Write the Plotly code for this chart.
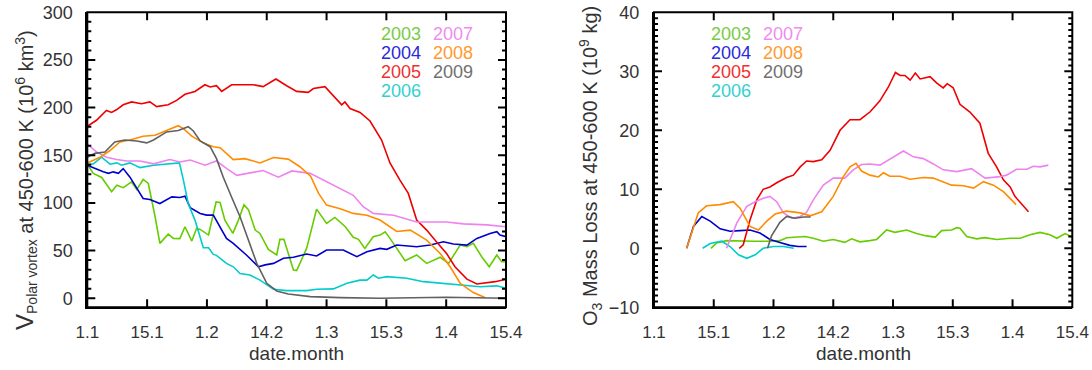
import plotly.graph_objects as go

# ---------------- axis labels ----------------
tick_pos = [0, 15, 30, 45, 60, 75, 90, 105]
tick_text = ["1.1", "15.1", "1.2", "14.2", "1.3", "15.3", "1.4", "15.4"]
vol_ticks = [0, 50, 100, 150, 200, 250, 300]
loss_ticks = [-10, 0, 10, 20, 30, 40]
years = ["2003", "2004", "2005", "2006", "2007", "2008", "2009"]
colors = {"2003": "#66cc00", "2004": "#0000cc", "2005": "#ee0000", "2006": "#00cccc",
          "2007": "#ee82ee", "2008": "#ff8c00", "2009": "#606060"}
text_colors = {"2003": "#77cc44", "2004": "#2a2ad8", "2005": "#f03030", "2006": "#33d0d0",
               "2007": "#f08cf0", "2008": "#ff9a30", "2009": "#707070"}

# ---------------- left panel: vortex volume ----------------
vol_2003_x = [0, 1.5, 3.6, 6.1, 7.4, 9, 11.1, 12.4, 14, 15.3, 17, 18.2, 20.3, 21.6, 23.2, 24.5, 26.2, 27.4, 28.3,
              30.4, 32.3, 33.3, 34.5, 36.5, 37.9, 39.3, 40.4, 42.1, 43.3, 45.4, 47.5, 48.3, 49.3, 51.7, 52.5, 55,
              57.5, 60, 62.1, 64.7, 66.7, 68, 69.6, 71.7, 73.4, 74.7, 75.9, 79.7, 82.6, 85.1, 88.5, 90.6, 93.5,
              95.2, 96.8, 98.9, 100.8, 102.7, 103.9, 105]
vol_2003_y = [140.6, 131, 126.7, 111.7, 118.6, 116, 122, 114, 124.6, 120.4, 85.5, 57.6, 67.3, 62.8, 62.5, 75, 60,
              73.3, 72.2, 66.3, 101, 100.5, 82, 68, 82, 98, 93, 71.5, 68, 51.3, 45.4, 61.8, 61.8, 29.7, 29, 52.3,
              93.5, 78.5, 84.8, 75, 63.9, 61.8, 52.3, 64.6, 66.3, 69.8, 62.8, 39.4, 45.4, 36.6, 43, 36.6, 55.8,
              54, 57.6, 43.6, 33, 45.4, 38.4, 38.4]

vol_2004_x = [0, 1.9, 4, 5.3, 6.5, 7.8, 9, 10.7, 12.8, 14, 15.7, 18.2, 21.2, 23.2, 24.5, 25.8, 28.3, 29.9, 31.6,
              34.9, 36.6, 39.9, 42.9, 44.6, 46.7, 49.2, 51.7, 55, 57.5, 60, 64.2, 67.6, 70.1, 73.4, 75.1, 77.6,
              82.6, 86, 89.3, 91.8, 95.2, 97.7, 101, 102.7, 103.5, 105]
vol_2004_y = [139.6, 136, 132.6, 131, 132.6, 131, 136, 127, 113, 104.7, 103.6, 99.4, 106.4, 105.7, 107, 95, 89,
              87.2, 87.2, 62.8, 57.6, 45.4, 33, 35, 36.6, 42, 43, 46.4, 44.3, 50.6, 50.6, 43.6, 48.8, 52.3, 51.3,
              55.8, 54, 55.8, 59.3, 56.9, 55.8, 62.8, 68, 69.8, 66.3, 64.6]

vol_2005_x = [0, 2.3, 4.8, 6.1, 7.4, 9, 11.1, 13.6, 15.7, 17.4, 20.3, 22.4, 24.5, 27, 29.5, 30.8, 32.4, 33.7, 36.2,
              39.1, 41.6, 44.1, 47.3, 50, 52.5, 55.4, 56.7, 59.6, 61.7, 63.8, 64.6, 65.9, 68.4, 70.9, 73.8, 75.9,
              78.4, 80.5, 82.6, 85.1, 87.6, 90.1, 92.2, 95.2, 97.7, 100.2, 102.3, 105]
vol_2005_y = [180.4, 186.7, 197, 195, 198, 203, 206, 204, 206, 201, 203, 207.6, 214, 217, 224, 221.6, 223, 217,
              224, 224, 224, 222, 230, 223, 217, 216, 220, 222, 213, 203, 206, 199, 195, 186, 166, 142, 124, 110,
              82, 71.5, 59, 47, 33, 20, 15, 16.4, 17.4, 20]

vol_2006_x = [0, 1.5, 3.6, 5.7, 7.4, 8.6, 10.7, 13.2, 16.6, 19.9, 23.1, 24.1, 25.3, 27, 29.1, 30.4, 31.6, 32.4,
              34.9, 36.6, 38.3, 40.8, 43.3, 46.7, 50, 55, 57.5, 61.7, 65.1, 68.4, 70.1, 71.7, 73, 75.1, 80.1,
              84.3, 88.5, 94.3, 98.5, 102.7, 105]
vol_2006_y = [140.6, 141, 148, 140.6, 142, 139.6, 142, 137, 139.6, 141, 142, 124, 99.4, 82, 53, 53, 46, 45, 36.6,
              33, 26, 24.4, 19, 9.4, 8, 8, 9.4, 9.8, 15.7, 19, 19, 24.4, 21, 22.7, 21, 17.4, 15.7, 14, 12, 13,
              10.5]

vol_2007_x = [0, 2.3, 4.8, 7.4, 9.9, 13.2, 16.6, 20.7, 23.2, 25.8, 29.5, 32.4, 35, 37.5, 40.8, 44.1, 47.9, 51.3,
              55.9, 60, 64.2, 66.7, 69.2, 71.7, 76.8, 82.6, 90.1, 94.3, 100.2, 105]
vol_2007_y = [161.5, 153.5, 148, 145.5, 144, 144, 141, 145.5, 143, 145, 139.6, 144, 136, 129, 131.5, 134, 127,
              133.6, 131, 122, 113, 108, 96, 89, 87, 80, 80, 78, 77, 75]

vol_2008_x = [0, 3.2, 5.7, 8.2, 10.7, 14, 17, 19.9, 22.8, 24.1, 26.2, 29.1, 31.6, 33.3, 35, 36.6, 39.5, 43.3,
              46.7, 50.4, 53.3, 56, 58, 60, 63.4, 66.7, 70.1, 73.4, 77.6, 81, 85.1, 88.5, 91, 93.5, 96.8, 99.7]
vol_2008_y = [142, 148, 155, 164, 166, 170, 171, 176, 181, 178, 170, 163, 159, 158, 152, 145.5, 146.5, 142,
              147.6, 146, 138, 128, 110, 97.7, 94, 89, 87, 82, 70, 71.5, 61, 47, 33, 15.7, 6, 0.7]

vol_2009_x = [0, 1.9, 4.4, 6.9, 9.4, 12.4, 14.9, 16.6, 19.9, 22.8, 25.3, 26.6, 28.3, 30.8, 32.4, 34.1, 36.2, 38.3,
              40.4, 42.5, 45, 47.5, 50.4, 55.9, 63.4, 73.4, 90, 105]
vol_2009_y = [148, 152, 153.5, 164, 166, 165, 163, 166, 174.5, 176, 180, 175.5, 165, 159, 146.5, 127, 106, 85.5,
              61, 36.6, 15.7, 7.7, 4.5, 1.7, 0.7, 0, 1, 0]

# ---------------- right panel: ozone mass loss ----------------
loss_2003_x = [14.3, 15.7, 18.2, 21.6, 24.9, 28.3, 31.6, 33.3, 35.8, 37.9, 40, 42.5, 45, 47.9, 49.6, 51.7, 54.2,
               55.9, 58.4, 60.5, 63.4, 65.9, 68.4, 70.6, 72.2, 74.7, 76, 76.8, 78.5, 81, 83.1, 86, 89.4, 91.9,
               94.4, 96.9, 99.4, 101.1, 103.2, 105]
loss_2003_y = [0, 0.9, 1.3, 1.2, 1.2, 1.2, 1.3, 1.8, 1.9, 2, 1.7, 1.2, 1.5, 1, 1.6, 1.1, 1.3, 1.5, 3.1, 2.7, 3.1,
               2.5, 2.1, 1.9, 3, 3.1, 3.5, 3.4, 2, 1.6, 1.8, 1.5, 1.7, 1.7, 2.3, 2.7, 2.3, 1.7, 2.5, 1.9]

loss_2004_x = [8.2, 9.9, 12, 14.1, 16.6, 19.1, 21.6, 24.1, 26.6, 29.1, 31.6, 34.1, 36.2, 38.3]
loss_2004_y = [0, 3.7, 5.4, 4.6, 3.3, 2.9, 3, 3.1, 2.6, 1.5, 1, 0.5, 0.3, 0.3]

loss_2005_x = [21.4, 22.4, 24.1, 25.8, 27.4, 29.1, 30.8, 33.3, 35, 36.7, 38.3, 40, 42.1, 44.2, 46.7, 49.2, 51.7,
               54.2, 56.7, 58.8, 60.6, 61.8, 63, 64.3, 65.6, 66.8, 69.3, 71, 72.6, 73.6, 75.1, 76.8, 79.3, 81.8,
               83.9, 86, 87.7, 89.4, 90.6, 92.3, 94]
loss_2005_y = [0, 0.6, 4.8, 8.2, 10, 10.4, 11.1, 12, 12.4, 13.8, 14.8, 14.7, 15, 16.6, 20, 21.8, 21.8, 23.1, 25,
               27.3, 29.8, 29.3, 29.3, 28.5, 29.7, 28.7, 29.1, 28, 27.2, 27.9, 27.2, 24.4, 23.1, 21.2, 16.1, 13.8,
               11.6, 10.4, 8.8, 7.5, 6.2]

loss_2006_x = [12.2, 14.1, 17, 19.1, 21.2, 23.3, 25.4, 27.4, 30, 32.5, 35.1]
loss_2006_y = [0, 0.8, 1.2, 0.3, -1.1, -1.7, -1.1, 0, 0.3, 0.3, 0]

loss_2007_x = [18.2, 20.8, 23.3, 25.4, 27.4, 29.1, 30.8, 32.5, 34.6, 36.7, 38.3, 40, 42.5, 45, 47.9, 50, 52.1,
               54.2, 56.7, 59.2, 62.6, 65.1, 67.6, 70.1, 72.6, 76, 79.7, 83.1, 86.4, 88.5, 91, 93.6, 95.2, 96.9, 99]
loss_2007_y = [0, 4.3, 7.1, 7.9, 8.5, 8.8, 7.9, 6, 5.1, 5.4, 6.1, 8.2, 10.7, 11.9, 11.9, 13.3, 14.2, 14.3, 14.1,
               15.1, 16.5, 15.5, 15.2, 14.3, 13.3, 13, 13.5, 11.9, 12.1, 12.4, 13.4, 13.4, 13.9, 13.8, 14.1]

loss_2008_x = [8.2, 9.5, 11.1, 13.2, 16.6, 19.9, 21.6, 24.1, 26.2, 28.3, 30.4, 33.3, 36.7, 39.2, 42.1, 45, 47.5,
               49.2, 50.7, 52.1, 54.2, 56.3, 57.6, 59.2, 61.8, 64.3, 67.6, 70.1, 72.6, 74.7, 77.7, 80.2, 82.7,
               85.2, 87.7, 89.4, 90.9]
loss_2008_y = [0, 2.6, 6, 7.2, 7.4, 7.9, 6.8, 3.7, 3.1, 4.6, 5.8, 6.3, 6, 5.5, 6.2, 8.8, 12.1, 13.8, 14.4, 13.1,
               12.4, 12.1, 12.8, 12.2, 12.2, 11.7, 12, 11.9, 11.3, 10.7, 10.6, 10.2, 11.3, 10.7, 9.6, 8.5, 7.4]

loss_2009_x = [28.5, 29.5, 31.6, 33.3, 35.4, 37.5, 39.3]
loss_2009_y = [0, 2.1, 4.4, 5.4, 5.1, 5.3, 5.3]

left_series = {"2003": (vol_2003_x, vol_2003_y), "2004": (vol_2004_x, vol_2004_y),
               "2005": (vol_2005_x, vol_2005_y), "2006": (vol_2006_x, vol_2006_y),
               "2007": (vol_2007_x, vol_2007_y), "2008": (vol_2008_x, vol_2008_y),
               "2009": (vol_2009_x, vol_2009_y)}
right_series = {"2003": (loss_2003_x, loss_2003_y), "2004": (loss_2004_x, loss_2004_y),
                "2005": (loss_2005_x, loss_2005_y), "2006": (loss_2006_x, loss_2006_y),
                "2007": (loss_2007_x, loss_2007_y), "2008": (loss_2008_x, loss_2008_y),
                "2009": (loss_2009_x, loss_2009_y)}

fig = go.Figure()
for yr in years:
    x, y = left_series[yr]
    fig.add_trace(go.Scatter(x=x, y=y, mode="lines", line=dict(color=colors[yr], width=1.6),
                             xaxis="x", yaxis="y", showlegend=False, hoverinfo="skip"))
for yr in years:
    x, y = right_series[yr]
    fig.add_trace(go.Scatter(x=x, y=y, mode="lines", line=dict(color=colors[yr], width=1.6),
                             xaxis="x2", yaxis="y2", showlegend=False, hoverinfo="skip"))

W, H = 1092, 370


def px_x(v):
    return v / W


def px_y(v):
    return 1 - v / H


left_dom = [px_x(87.3), px_x(506)]
right_dom = [px_x(654), px_x(1072.3)]
ydom = [px_y(307.3), px_y(12.3)]
PLOT_W = (left_dom[1] - left_dom[0]) * W
PLOT_H = (ydom[1] - ydom[0]) * H

FONT = "Liberation Sans, Arial, Helvetica, sans-serif"
NARROW = "Liberation Sans Narrow, Arial Narrow, Liberation Sans, sans-serif"
TXT = "#333333"

base = dict(showline=True, linewidth=2, linecolor="#000000", ticks="",
            showgrid=False, zeroline=False, automargin=False, ticklabeloverflow="allow")
xcommon = dict(range=[0, 105], tickmode="array", tickvals=tick_pos, ticktext=tick_text,
               ticklabelstandoff=8, tickfont=dict(family=NARROW, size=17, color=TXT), **base)
ytickfont = dict(family=FONT, size=18, color=TXT)

VOL_RANGE = [-9.5, 300]
LOSS_RANGE = [-10, 40]

fig.update_layout(
    template="none",
    width=W, height=H, margin=dict(l=0, r=0, t=0, b=0, autoexpand=False),
    paper_bgcolor="white", plot_bgcolor="white",
    xaxis=dict(domain=left_dom, anchor="y", **xcommon),
    yaxis=dict(domain=ydom, anchor="x", range=VOL_RANGE, tickmode="array", tickvals=vol_ticks,
               ticklabelstandoff=9, tickfont=ytickfont, **base),
    xaxis2=dict(domain=right_dom, anchor="y2", **xcommon),
    yaxis2=dict(domain=ydom, anchor="x2", range=LOSS_RANGE, tickmode="array", tickvals=loss_ticks,
                ticklabelstandoff=9, tickfont=ytickfont, **base),
)

# ---- frame and inward tick marks on all four sides (drawn as layout shapes) ----
shapes = []
TICK = dict(color="#000000", width=2)
MAJ, MIN = 8, 4
panels = [("x", "y", vol_ticks, 10, VOL_RANGE), ("x2", "y2", loss_ticks, 1, LOSS_RANGE)]
for xr, yr_, yt, minor_step, yrange in panels:
    shapes.append(dict(type="rect", xref=xr + " domain", yref=yr_ + " domain", x0=0, x1=1, y0=0, y1=1,
                       line=dict(color="#000000", width=2), fillcolor="rgba(0,0,0,0)", layer="above"))
    fx = MAJ / PLOT_H
    for t in tick_pos[1:-1]:
        for y0, y1 in [(0, fx), (1, 1 - fx)]:
            shapes.append(dict(type="line", xref=xr, yref=yr_ + " domain", x0=t, x1=t, y0=y0, y1=y1,
                               line=TICK, layer="above"))
    minor_vals = [v for v in range(int(yt[0]), int(yt[-1]) + 1, minor_step) if v not in yt]
    for v, ln in [(v, MAJ) for v in yt] + [(v, MIN) for v in minor_vals]:
        if v <= yrange[0] or v >= yrange[1]:
            continue
        f = ln / PLOT_W
        for x0, x1 in [(0, f), (1, 1 - f)]:
            shapes.append(dict(type="line", xref=xr + " domain", yref=yr_, x0=x0, x1=x1, y0=v, y1=v,
                               line=TICK, layer="above"))
fig.update_layout(shapes=shapes)

ann = []
# axis titles
for xc in [(87.3 + 506) / 2, (654 + 1072.3) / 2]:
    ann.append(dict(text="date.month", x=px_x(xc), y=px_y(353), xref="paper", yref="paper",
                    xanchor="center", yanchor="middle", showarrow=False,
                    font=dict(family=FONT, size=19, color=TXT)))
ann.append(dict(text='<span style="font-size:24px">V</span><sub>Polar vortex</sub> at 450-600 K (10<sup>6</sup> km<sup>3</sup>)',
                x=px_x(25), y=px_y(180), xref="paper", yref="paper", textangle=-90,
                xanchor="center", yanchor="middle", showarrow=False,
                font=dict(family=FONT, size=20, color=TXT)))
ann.append(dict(text="O<sub>3</sub> Mass Loss at 450-600 K (10<sup>9</sup> kg)",
                x=px_x(590), y=px_y(166), xref="paper", yref="paper", textangle=-90,
                xanchor="center", yanchor="middle", showarrow=False,
                font=dict(family=FONT, size=20, color=TXT)))

# legend texts
row_y = [33.7, 52.8, 72, 91.2]
legend_layout = [("2003", 0, 0), ("2004", 0, 1), ("2005", 0, 2), ("2006", 0, 3),
                 ("2007", 1, 0), ("2008", 1, 1), ("2009", 1, 2)]
for col_x in [(379, 430.5), (708.5, 760.5)]:
    for yr, c, r in legend_layout:
        ann.append(dict(text=yr, x=px_x(col_x[c]), y=px_y(row_y[r]), xref="paper", yref="paper",
                        xanchor="left", yanchor="middle", showarrow=False,
                        font=dict(family=FONT, size=18, color=text_colors[yr])))
fig.update_layout(annotations=ann)

# the page body has a default 8 px margin; remove it so the figure fills the window exactly
fig.write_html("out.html", config={"displayModeBar": False},
               post_script="document.body.style.margin='0px';")
